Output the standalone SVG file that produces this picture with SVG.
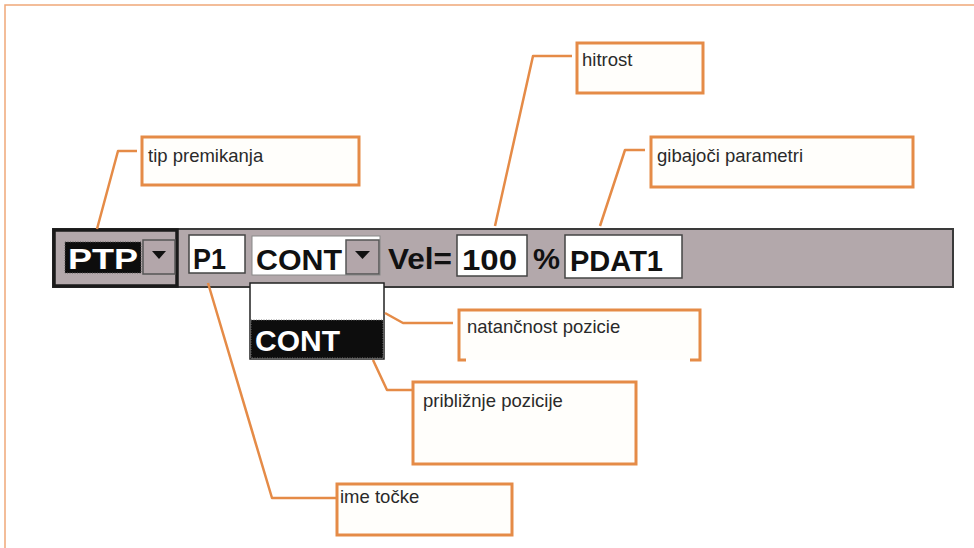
<svg xmlns="http://www.w3.org/2000/svg" width="974" height="548" viewBox="0 0 974 548">
<style>
.note rect, .note path.box { fill: #fffefb; stroke: #e58b47; stroke-width: 3; }
.lbl { font-family: "Liberation Sans", Arial, sans-serif; font-size: 18.5px; fill: #2a2a2a; }
.lead { fill: none; stroke: #e58b47; stroke-width: 2.5; stroke-linejoin: round; }
.ui { font-family: "Liberation Sans", Arial, sans-serif; font-weight: bold; font-size: 29px; fill: #111; }
.btn { fill: #b3a6aa; stroke: #555; stroke-width: 1.5; }
.field { fill: #ffffff; stroke: #444; stroke-width: 1.5; }
</style>
<rect x="0" y="0" width="974" height="548" fill="#ffffff"/>
<path d="M5 548 V5 H974" fill="none" stroke="#f0a878" stroke-width="1.5"/>

<g id="toolbar">
  <rect x="53" y="229" width="900" height="58" fill="#b3a8ab" stroke="#3a3a3a" stroke-width="2"/>
  <rect x="54" y="230" width="123" height="56" fill="#b3a8ab" stroke="#1a1a1a" stroke-width="3.5"/>
  <rect x="65" y="242" width="76" height="31" fill="#0d0d0d" stroke="#555" stroke-width="1" stroke-dasharray="1 1.5"/>
  <text class="ui" x="68" y="269" style="fill:#ffffff" textLength="70" lengthAdjust="spacingAndGlyphs">PTP</text>
  <rect class="btn" x="143" y="240" width="32" height="34"/>
  <path d="M152 251 H166 L159 259 Z" fill="#111"/>
  <rect class="field" x="189" y="235" width="56" height="38"/>
  <text class="ui" x="193" y="269" textLength="33" lengthAdjust="spacingAndGlyphs">P1</text>
  <rect x="252" y="236" width="128" height="39" fill="#ffffff" stroke="#888" stroke-width="1"/>
  <text class="ui" x="256" y="270" textLength="86" lengthAdjust="spacingAndGlyphs">CONT</text>
  <rect class="btn" x="346" y="240" width="33" height="34"/>
  <path d="M355 251 H370 L362.5 259 Z" fill="#111"/>
  <text class="ui" x="388" y="269" textLength="64" lengthAdjust="spacingAndGlyphs">Vel=</text>
  <rect class="field" x="457" y="235" width="70" height="41"/>
  <text class="ui" x="462" y="270" textLength="55" lengthAdjust="spacingAndGlyphs">100</text>
  <text class="ui" x="533" y="269" textLength="27" lengthAdjust="spacingAndGlyphs">%</text>
  <rect class="field" x="565" y="235" width="117" height="43"/>
  <text class="ui" x="570" y="271" textLength="93" lengthAdjust="spacingAndGlyphs">PDAT1</text>
</g>

<g id="dropdown">
  <rect x="250" y="283" width="134" height="76" fill="#ffffff" stroke="#222" stroke-width="1.5"/>
  <rect x="251" y="320" width="132" height="38" fill="#0d0d0d" stroke="#777" stroke-width="1" stroke-dasharray="1 1.5"/>
  <text class="ui" x="255" y="351" style="fill:#ffffff" textLength="85" lengthAdjust="spacingAndGlyphs">CONT</text>
</g>

<g id="connectors">
  <path class="lead" d="M137 151 H118 L97 229"/>
  <path class="lead" d="M572 56 H533 L495 226"/>
  <path class="lead" d="M645 150 H625 L600 226"/>
  <path class="lead" d="M385 313 L403 323 H453"/>
  <path class="lead" d="M373 360 L387 390 H413"/>
  <path class="lead" d="M208 283 L272 498 H337"/>
</g>

<g id="n-tip" class="note">
  <rect x="142" y="137" width="217" height="48"/>
  <text class="lbl" x="148" y="162">tip premikanja</text>
</g>
<g id="n-hitrost" class="note">
  <rect x="577" y="43" width="126" height="50"/>
  <text class="lbl" x="582" y="66">hitrost</text>
</g>
<g id="n-gib" class="note">
  <rect x="651" y="137" width="262" height="50"/>
  <text class="lbl" x="657" y="162">gibajoči parametri</text>
</g>
<g id="n-nat" class="note">
  <rect x="459" y="310" width="241" height="50" style="fill:#fffefb;stroke:none"/>
  <path d="M466 360 H459 V310 H700 V360 H690" fill="none" stroke="#e58b47" stroke-width="3"/>
  <text class="lbl" x="467" y="333">natančnost pozicie</text>
</g>
<g id="n-pribl" class="note">
  <rect x="413" y="382" width="223" height="82"/>
  <text class="lbl" x="423" y="407">približnje pozicije</text>
</g>
<g id="n-ime" class="note">
  <rect x="337" y="484" width="175" height="51"/>
  <text class="lbl" x="340" y="503">ime točke</text>
</g>
</svg>
